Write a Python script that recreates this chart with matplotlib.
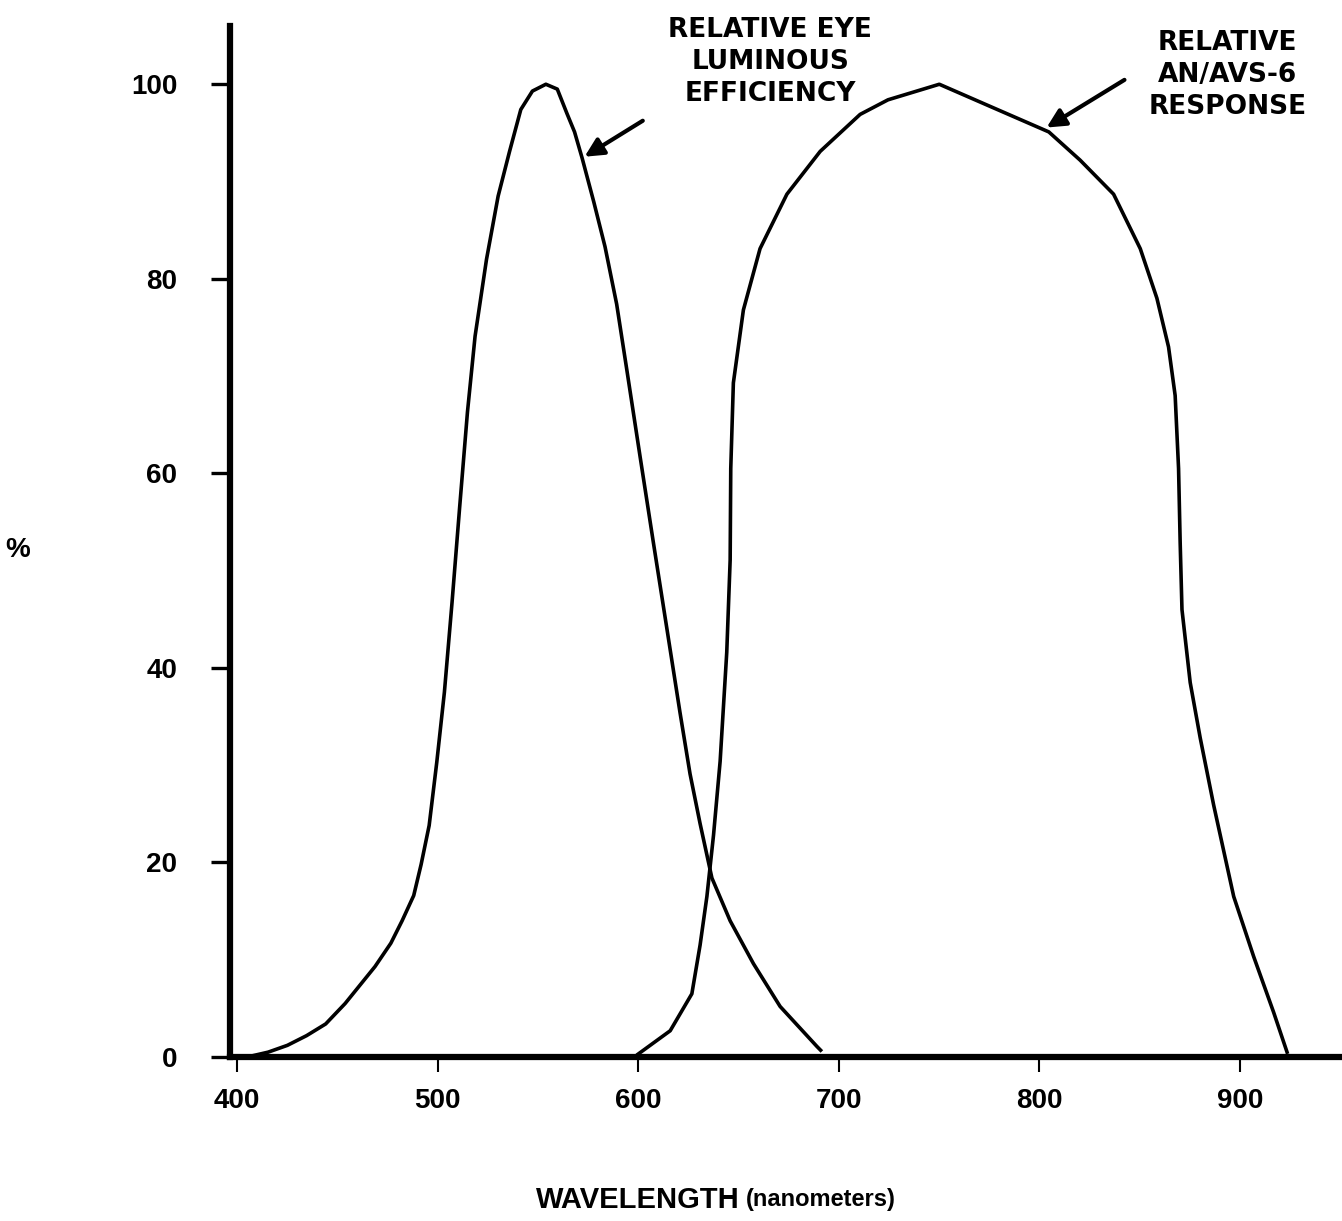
import matplotlib.pyplot as plt

# values
eye_nm = [405, 415.5, 425.1, 434.7, 444.2, 453.9, 468.8, 476.7, 482.3, 488.1,
          491.8, 495.8, 499.6, 503.4, 507.2, 511.0, 514.9, 518.7, 524.4, 530.2,
          535.9, 541.5, 547.3, 554.0, 559.7, 564.5, 568.3, 572.1, 577.9, 583.5,
          589.3, 594.4, 601.0, 607.6, 614.3, 620.9, 625.9, 630.9, 636.8, 645.9,
          657.5, 670.8, 689.1, 691.0]
eye_pct = [0, 0.5, 1.2, 2.2, 3.4, 5.5, 9.3, 11.7, 14.0, 16.6,
           19.8, 23.8, 30.3, 37.5, 46.7, 56.5, 66.3, 74.1, 82.0, 88.5,
           93.1, 97.4, 99.3, 100, 99.5, 97.0, 95.1, 92.4, 87.9, 83.3,
           77.4, 70.6, 61.7, 52.9, 44.1, 35.4, 29.1, 24.0, 18.4, 14.0,
           9.6, 5.2, 1.1, 0.7]

avs_nm = [600, 616, 626.8, 630.9, 634.3, 637.6, 640.9, 644.2, 645.9, 646.2,
          647.5, 652.5, 660.8, 674.2, 690.8, 710.7, 724.6, 750.2, 775.8, 804.8,
          820.4, 837.1, 850.4, 858.7, 864.5, 867.8, 869.5, 870.3, 871.2, 875.3,
          880.3, 887.0, 897.0, 907.0, 916.9, 923.6]
avs_pct = [0.3, 2.7, 6.5, 11.5, 16.5, 22.8, 30.4, 41.6, 51.1, 60.5,
           69.3, 76.8, 83.1, 88.7, 93.1, 96.9, 98.4, 100, 97.7, 95.1,
           92.2, 88.7, 83.1, 78.0, 73.0, 68.0, 60.5, 52.9, 46.0, 38.5,
           32.8, 25.9, 16.5, 10.3, 4.6, 0.5]

xticks = [400, 500, 600, 700, 800, 900]
yticks = [0, 20, 40, 60, 80, 100]

fnt = 'Liberation Sans'

fig = plt.figure(figsize=(13.42, 12.21), dpi=100)
ax = fig.add_axes([0.1714, 0.1343, 0.8286, 0.8445])

ax.plot(eye_nm, eye_pct, color='black', lw=2.6, solid_joinstyle='round')
ax.plot(avs_nm, avs_pct, color='black', lw=2.6, solid_joinstyle='round')

ax.set_xlim(396.5, 951)
ax.set_ylim(0, 106)

for s in ['top', 'right']:
    ax.spines[s].set_visible(False)
ax.spines['left'].set_linewidth(4.5)
ax.spines['bottom'].set_linewidth(4.5)

ax.set_xticks(xticks)
ax.set_yticks(yticks)
ax.tick_params(axis='y', length=14, width=2.4, pad=24)
ax.tick_params(axis='x', length=11, width=1.5, pad=11)
for lab in ax.get_xticklabels() + ax.get_yticklabels():
    lab.set_fontfamily(fnt)
    lab.set_fontweight('bold')
    lab.set_fontsize(20)

# curve labels with arrows
ax.text(665.8, 102.3, 'RELATIVE EYE\nLUMINOUS\nEFFICIENCY', ha='center', va='center',
        fontsize=19, fontweight='bold', family='DejaVu Sans', linespacing=1.3)
ax.text(893.8, 100.9, 'RELATIVE\nAN/AVS-6\nRESPONSE', ha='center', va='center',
        fontsize=19, fontweight='bold', family='DejaVu Sans', linespacing=1.3)
ax.annotate('', xy=(572.1, 92.4), xytext=(603.5, 96.4),
            arrowprops=dict(arrowstyle='-|>', color='black', lw=3, mutation_scale=28))
ax.annotate('', xy=(802.5, 95.4), xytext=(843.7, 100.6),
            arrowprops=dict(arrowstyle='-|>', color='black', lw=3, mutation_scale=28))

fig.text(0.0134, 0.5496, '%', fontsize=20, fontweight='bold', family=fnt,
         ha='center', va='center')
fig.text(0.5515, 0.0172, 'WAVELENGTH', fontsize=21, fontweight='bold', family=fnt,
         ha='right', va='center')
fig.text(0.5555, 0.0172, '(nanometers)', fontsize=17, fontweight='bold', family=fnt,
         ha='left', va='center')

fig.savefig('out.png', dpi=100)
